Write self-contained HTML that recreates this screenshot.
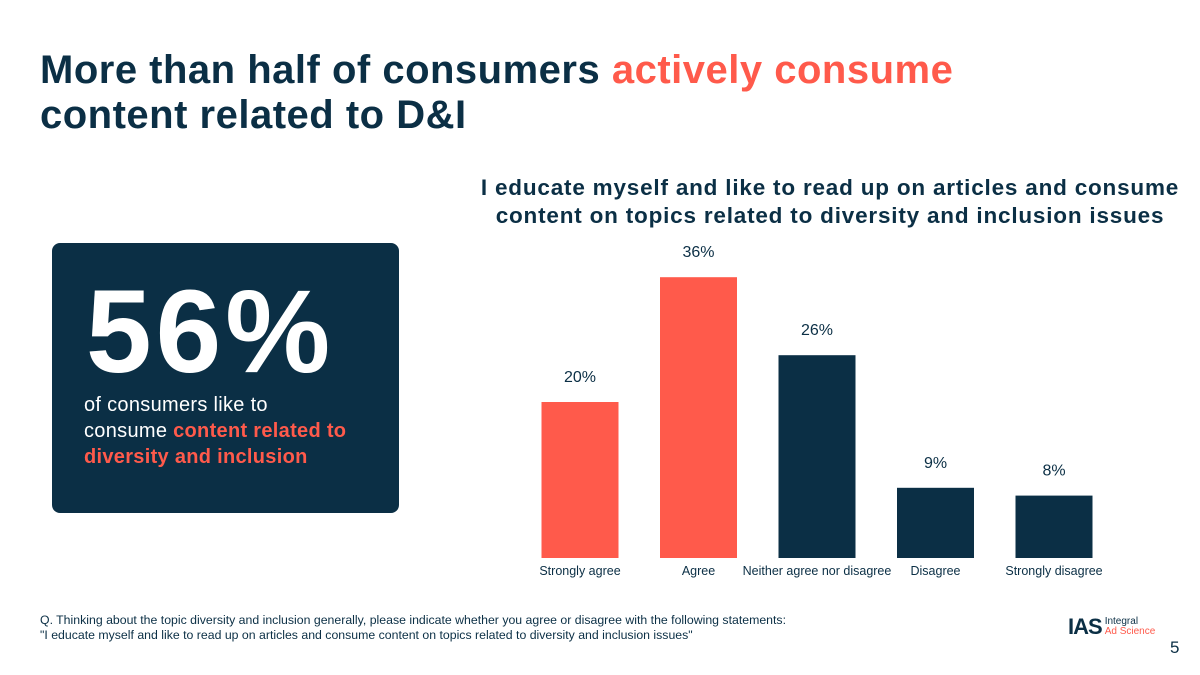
<!DOCTYPE html>
<html><head><meta charset="utf-8"><style>
body{margin:0;width:1200px;height:675px;background:#fff;font-family:"Liberation Sans",Arial,sans-serif;position:relative;overflow:hidden;color:#0b2f45}
.abs{position:absolute}
h1{position:absolute;left:40px;top:48px;margin:0;font-size:40px;line-height:45px;font-weight:700;color:#0b2f45;letter-spacing:0.5px;white-space:nowrap}
.hl{color:#ff5a4b}
</style></head><body>
<h1>More than half of consumers <span class="hl">actively consume</span><br>content related to D&amp;I</h1>
<div class="abs" style="left:52px;top:243px;width:347px;height:270px;background:#0b2f45;border-radius:8px">
 <div class="abs" style="left:34px;top:24px;font-size:118px;font-weight:700;color:#fff;line-height:130px;letter-spacing:4px">56%</div>
 <div class="abs" style="left:32px;top:149px;width:292px;font-size:20px;line-height:26px;color:#fff;letter-spacing:0.3px">of consumers like to<br>consume <b class="hl">content related to diversity and inclusion</b></div>
</div>
<div class="abs" style="left:420px;top:174px;width:820px;text-align:center;font-size:22.5px;font-weight:700;line-height:28px;color:#0b2f45;letter-spacing:0.8px">I educate myself and like to read up on articles and consume<br>content on topics related to diversity and inclusion issues</div>
<svg class="abs" style="left:0;top:0" width="1200" height="675" id="chart"></svg>
<div class="abs" style="left:40px;top:613px;font-size:12.3px;line-height:15px;color:#0b2f45;white-space:nowrap">Q. Thinking about the topic diversity and inclusion generally, please indicate whether you agree or disagree with the following statements:<br>"I educate myself and like to read up on articles and consume content on topics related to diversity and inclusion issues"</div>
<div class="abs" style="left:1068px;top:614px;display:flex;align-items:center">
 <span style="font-size:22px;font-weight:900;color:#0b2f45;letter-spacing:-1px">IAS</span>
 <span style="font-size:10px;line-height:10px;margin-left:3px;color:#0b2f45">Integral<br><span style="color:#ff5a4b">Ad Science</span></span>
</div>
<div class="abs" style="left:1170px;top:638px;font-size:17px;color:#0b2f45">5</div>
<script>
const categories=["Strongly agree","Agree","Neither agree nor disagree","Disagree","Strongly disagree"];
const values=[20,36,26,9,8];
const valueLabels=["20%","36%","26%","9%","8%"];
const colors=["#ff5a4b","#ff5a4b","#0b2f45","#0b2f45","#0b2f45"];
const svg=document.getElementById('chart');
const NS="http://www.w3.org/2000/svg";
const base=558,pxPer=7.8,x0=580,step=118.5,bw=77;
const y=v=>base-v*pxPer, xc=i=>x0+i*step;
categories.forEach((c,i)=>{
 const r=document.createElementNS(NS,'rect');
 r.setAttribute('x',xc(i)-bw/2);r.setAttribute('y',y(values[i]));
 r.setAttribute('width',bw);r.setAttribute('height',base-y(values[i]));
 r.setAttribute('fill',colors[i]);
 
 
 svg.appendChild(r);
 const t=document.createElementNS(NS,'text');
 t.setAttribute('x',xc(i));t.setAttribute('y',y(values[i])-20);
 t.setAttribute('text-anchor','middle');t.setAttribute('font-size','16');t.setAttribute('fill','#0b2f45');
 t.textContent=valueLabels[i];
 
 
 svg.appendChild(t);
 const l=document.createElementNS(NS,'text');
 l.setAttribute('x',xc(i));l.setAttribute('y',575);
 l.setAttribute('text-anchor','middle');l.setAttribute('font-size','12.5');l.setAttribute('fill','#0b2f45');
 l.textContent=c;
 
 
 svg.appendChild(l);
});
</script>
</body></html>
